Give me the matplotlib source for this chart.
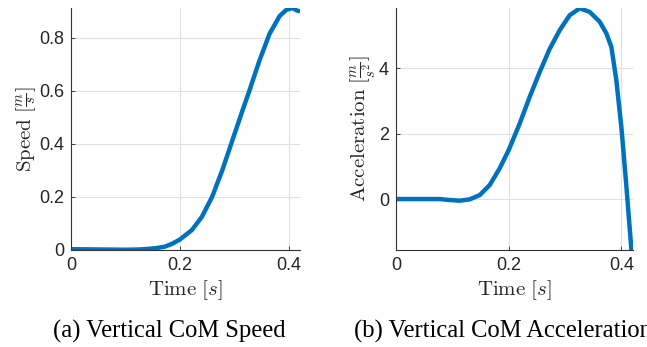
import matplotlib
matplotlib.use("Agg")
import matplotlib.pyplot as plt

plt.rcParams['mathtext.fontset'] = 'cm'

# Speed data (s, m/s)
t_speed = [0.0, 0.05, 0.10, 0.125, 0.141, 0.156, 0.172, 0.186, 0.200, 0.2216, 0.240,
           0.2587, 0.2773, 0.296, 0.3145, 0.327, 0.3455, 0.364, 0.3827, 0.395,
           0.4063, 0.4137, 0.420]
speed = [0.003, 0.002, 0.001, 0.002, 0.004, 0.007, 0.0125, 0.024, 0.040, 0.075, 0.125,
         0.200, 0.300, 0.414, 0.526, 0.600, 0.714, 0.815, 0.883, 0.906,
         0.913, 0.904, 0.900]

# Acceleration data (s, m/s^2)
t_acc = [0.0, 0.04, 0.0775, 0.0953, 0.113, 0.1308, 0.1485, 0.1663, 0.184, 0.200,
         0.2195, 0.2373, 0.255, 0.2728, 0.2905, 0.3083, 0.326, 0.3437, 0.3615,
         0.3734, 0.3822, 0.391, 0.400, 0.4089, 0.4178, 0.420]
acc = [0.0, 0.0, 0.0, -0.03, -0.05, -0.01, 0.12, 0.43, 0.94, 1.50,
       2.31, 3.13, 3.89, 4.60, 5.17, 5.63, 5.84, 5.73, 5.43,
       5.07, 4.66, 3.64, 2.20, 0.38, -1.56, -1.8]

speed_ticks = [0, 0.2, 0.4, 0.6, 0.8]
acc_ticks = [0, 2, 4]
time_ticks = [0, 0.2, 0.4]

blue = '#0072BD'
W, H = 647, 347
fig = plt.figure(figsize=(W / 100, H / 100), dpi=100)

def ax_rect(l, r, t, b):
    return [l / W, 1 - b / H, (r - l) / W, (b - t) / H]

ax1 = fig.add_axes(ax_rect(71, 300, 8, 250))
ax2 = fig.add_axes(ax_rect(396, 633, 8, 250))

tick_font = dict(family='Liberation Sans', size=13)

for ax in (ax1, ax2):
    for s in ('top', 'right'):
        ax.spines[s].set_visible(False)
    for s in ('left', 'bottom'):
        ax.spines[s].set_color('#333333')
        ax.spines[s].set_linewidth(0.8)
    ax.grid(True, color='#e0e0e0', linewidth=0.8)
    ax.set_axisbelow(True)
    ax.tick_params(direction='in', length=3, width=0.6, colors='#262626', labelsize=13, pad=5)
    ax.set_xticks(time_ticks)
    ax.set_xticklabels(['0', '0.2', '0.4'], fontdict=tick_font)
    ax.set_xlabel(r'$\mathrm{Time}\ [s]$', fontsize=15, color='#262626', labelpad=3)

ax1.plot(t_speed, speed, color=blue, linewidth=3.2, solid_capstyle='butt', solid_joinstyle='round')
ax1.set_xlim(0, 0.42)
ax1.set_ylim(0, 0.913)
ax1.set_yticks(speed_ticks)
ax1.set_yticklabels(['0', '0.2', '0.4', '0.6', '0.8'], fontdict=tick_font)
ax1.set_ylabel(r'$\mathrm{Speed}\ [\frac{m}{s}]$', fontsize=15, color='#262626', labelpad=1)

ax2.plot(t_acc, acc, color=blue, linewidth=3.2, solid_capstyle='butt', solid_joinstyle='round')
ax2.set_xlim(0, 0.4206)
ax2.set_ylim(-1.56, 5.85)
ax2.set_yticks(acc_ticks)
ax2.set_yticklabels(['0', '2', '4'], fontdict=tick_font)
ax2.set_ylabel(r'$\mathrm{Acceleration}\ [\frac{m}{s^2}]$', fontsize=15, color='#262626', labelpad=0)

fig.text(53 / W, 1 - 338 / H, '(a) Vertical CoM Speed', family='Liberation Serif', fontsize=17.7, ha='left', va='baseline')
fig.text(354 / W, 1 - 338 / H, '(b) Vertical CoM Acceleration', family='Liberation Serif', fontsize=17.7, ha='left', va='baseline')

fig.savefig('out.png', dpi=100)
